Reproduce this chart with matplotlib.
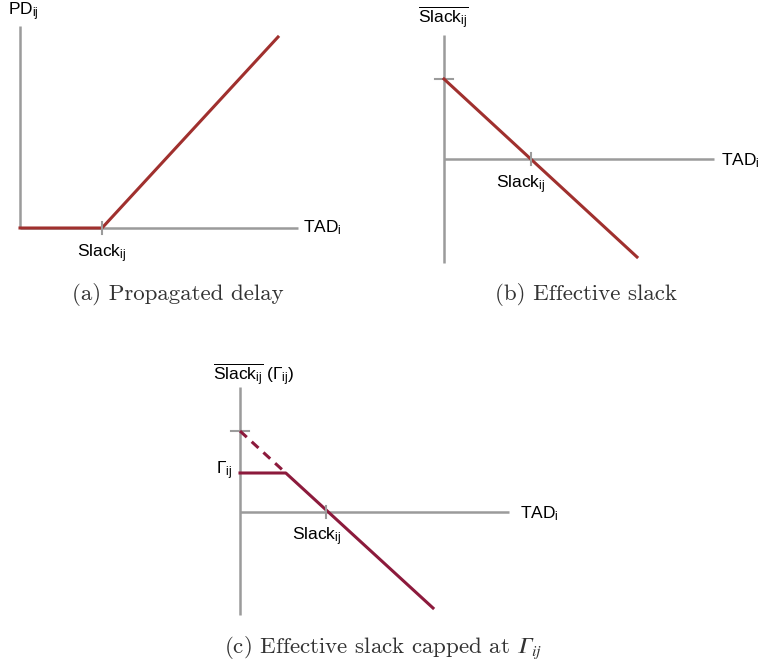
# Esquemas: retraso propagado y holgura efectiva

import matplotlib.pyplot as plt

plt.rcParams['font.family'] = 'Liberation Sans'
plt.rcParams['mathtext.fontset'] = 'custom'
plt.rcParams['mathtext.rm'] = 'Liberation Sans'
plt.rcParams['mathtext.it'] = 'Liberation Sans:italic'

GRIS = '#9b9b9b'
ROJO = '#a0302e'
GRANATE = '#8c1a3c'

# (a) retraso propagado: PD = max(0, TAD - Slack)
a_tad = [0, 8.2, 25.8]
a_pd = [0, 0, 19.1]
a_slack = 8.2
a_xmax, a_ymax = 27.8, 20.2

# (b) holgura efectiva
b_tad = [0, 19.3]
b_slack_ef = [8.0, -9.8]
b_slack = 8.65
b_xmax, b_ymin, b_ymax = 27.0, -10.4, 12.4

# (c) holgura efectiva con tope Gamma
c_tad = [0, 19.3]
c_slack_ef = [8.1, -9.6]
c_gamma = 3.9
c_slack = 8.6
c_xmax, c_ymin, c_ymax = 26.9, -10.3, 12.5

W, H = 762, 668
fig = plt.figure(figsize=(W / 100, H / 100), dpi=100)


def panel(ox, oy, x0, x1, y0, y1):
    # una unidad = 10 px, origen en (ox, oy) en pixeles de la figura
    ax = fig.add_axes([(ox + x0 * 10) / W, (H - oy + y0 * 10) / H,
                       (x1 - x0) * 10 / W, (y1 - y0) * 10 / H])
    ax.set_xlim(x0, x1)
    ax.set_ylim(y0, y1)
    ax.axis('off')
    return ax


def ejes(ax, xmax, ymin, ymax):
    ax.plot([0, xmax], [0, 0], color=GRIS, lw=1.8, solid_capstyle='butt', zorder=1)
    ax.plot([0, 0], [ymin, ymax], color=GRIS, lw=1.8, solid_capstyle='butt', zorder=1)


def marca_x(ax, x):
    ax.plot([x, x], [-0.6, 0.6], color=GRIS, lw=1.5, zorder=3)


def marca_y(ax, y):
    ax.plot([-0.9, 0.9], [y, y], color=GRIS, lw=1.5, zorder=1)


etq = dict(fontsize=12.5, color='black')
cap = dict(fontsize=16.5, family='cmr10', color='#333333', math_fontfamily='cm',
           ha='center', va='center')
sub = r'$_{\mathrm{ij}}$'
sub_i = r'$_{\mathrm{i}}$'

# ---- (a)
ax = panel(20, 228, -2, 34, -8, 23)
ejes(ax, a_xmax, 0, a_ymax)
ax.plot(a_tad, a_pd, color=ROJO, lw=2.2, zorder=2)
marca_x(ax, a_slack)
ax.text(-1.2, 21.6, 'PD' + sub, ha='left', va='center', **etq)
ax.text(28.3, 0, 'TAD' + sub_i, ha='left', va='center', **etq)
ax.text(a_slack, -2.6, 'Slack' + sub, ha='center', va='center', **etq)
ax.text(15.8, -6.7, '(a) Propagated delay', **cap)

# ---- (b)
ax = panel(444, 159, -4, 32, -14, 16)
ejes(ax, b_xmax, b_ymin, b_ymax)
ax.plot(b_tad, b_slack_ef, color=ROJO, lw=2.2, zorder=2)
marca_y(ax, b_slack_ef[0])
marca_x(ax, b_slack)
ax.text(-2.6, 14.1, r'$\overline{\mathrm{Slack}_{\mathrm{ij}}}$', ha='left', va='center', **etq)
ax.text(27.7, -0.2, 'TAD' + sub_i, ha='left', va='center', **etq)
ax.text(7.7, -2.6, 'Slack' + sub, ha='center', va='center', **etq)
ax.text(14.2, -13.6, '(b) Effective slack', **cap)

# ---- (c)
ax = panel(240, 512, -4, 32, -15, 16)
ejes(ax, c_xmax, c_ymin, c_ymax)
pend = (c_slack_ef[1] - c_slack_ef[0]) / (c_tad[1] - c_tad[0])
x_tope = (c_gamma - c_slack_ef[0]) / pend
ax.plot([c_tad[0], x_tope], [c_slack_ef[0], c_gamma], color=GRANATE, lw=2.2,
        ls=(0, (3, 2.2)), zorder=2)
ax.plot([0, x_tope, c_tad[1]], [c_gamma, c_gamma, c_slack_ef[1]], color=GRANATE,
        lw=2.2, zorder=2)
marca_y(ax, c_slack_ef[0])
marca_x(ax, c_slack)
ax.text(-2.7, 13.7, r'$\overline{\mathrm{Slack}_{\mathrm{ij}}}$ ($\Gamma_{\mathrm{ij}}$)',
        ha='left', va='center', **etq)
ax.text(-0.8, 4.1, r'$\Gamma_{\mathrm{ij}}$', ha='right', va='center', **etq)
ax.text(28.0, -0.2, 'TAD' + sub_i, ha='left', va='center', **etq)
ax.text(7.7, -2.5, 'Slack' + sub, ha='center', va='center', **etq)
cap_c = dict(cap, math_fontfamily='stix')
ax.text(14.3, -13.6, '(c) Effective slack capped at $\U0001D6E4_{ij}$', **cap_c)

fig.savefig('out.png', dpi=100)
